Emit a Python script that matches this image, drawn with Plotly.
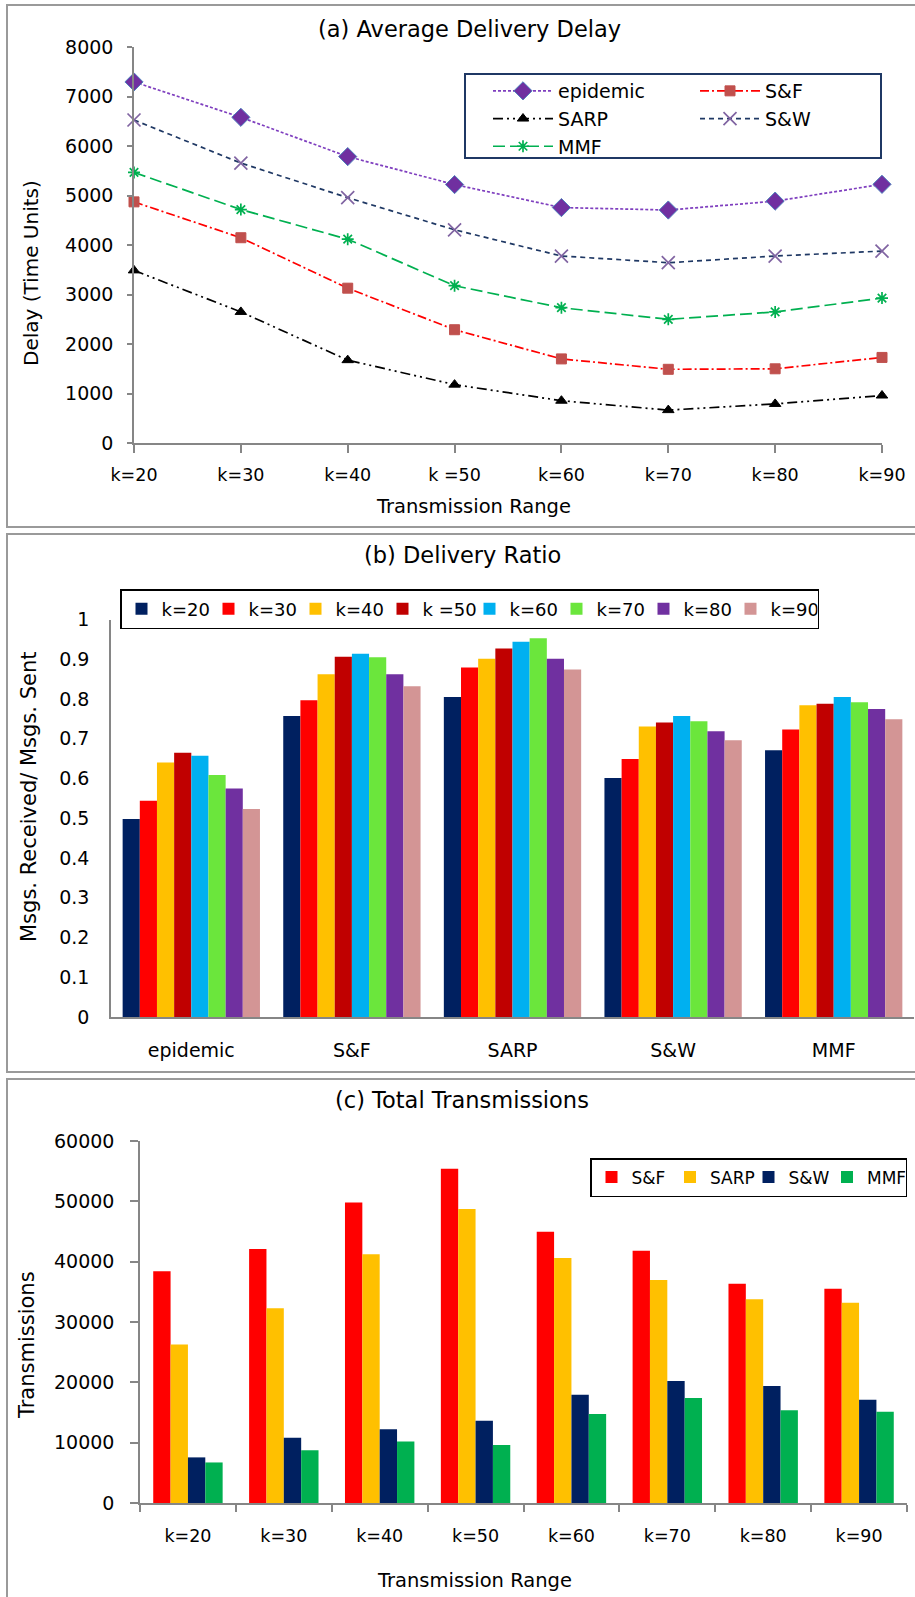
import plotly.graph_objects as go

W, H = 915, 1597
def px(x): return x / W
def py(y): return 1 - y / H

FONT = "DejaVu Sans"
AX = "#868686"

# ---------------- data ----------------
ranges_a = ["k=20", "k=30", "k=40", "k =50", "k=60", "k=70", "k=80", "k=90"]
delay_epidemic = [7300, 6585, 5790, 5225, 4760, 4710, 4890, 5230]
delay_sf = [4875, 4150, 3130, 2290, 1700, 1490, 1500, 1730]
delay_sarp = [3490, 2650, 1675, 1180, 855, 665, 790, 960]
delay_sw = [6530, 5660, 4960, 4310, 3780, 3645, 3780, 3880]
delay_mmf = [5470, 4720, 4120, 3180, 2735, 2500, 2650, 2930]

protocols = ["epidemic", "S&F", "SARP", "S&W", "MMF"]
k_labels_b = ["k=20", "k=30", "k=40", "k =50", "k=60", "k=70", "k=80", "k=90"]
ratio_k20 = [0.498, 0.757, 0.805, 0.601, 0.671]
ratio_k30 = [0.544, 0.797, 0.879, 0.649, 0.723]
ratio_k40 = [0.640, 0.862, 0.901, 0.731, 0.784]
ratio_k50 = [0.665, 0.906, 0.927, 0.741, 0.788]
ratio_k60 = [0.657, 0.914, 0.944, 0.757, 0.805]
ratio_k70 = [0.609, 0.905, 0.953, 0.744, 0.792]
ratio_k80 = [0.575, 0.862, 0.901, 0.719, 0.775]
ratio_k90 = [0.523, 0.832, 0.874, 0.696, 0.749]

ranges_c = ["k=20", "k=30", "k=40", "k=50", "k=60", "k=70", "k=80", "k=90"]
tx_sf = [38400, 42120, 49800, 55380, 44940, 41820, 36360, 35520]
tx_sarp = [26280, 32280, 41220, 48720, 40620, 36960, 33780, 33180]
tx_sw = [7560, 10800, 12240, 13620, 17940, 20220, 19380, 17100]
tx_mmf = [6720, 8760, 10200, 9600, 14760, 17400, 15360, 15120]

fig = go.Figure()

# ---------------- panel (a) ----------------
line_specs = [
    ("epidemic", delay_epidemic, "#7F3FBF", "3px,2px", "diamond", "#7030A0", "#4F81BD", 14, "legend"),
    ("S&F", delay_sf, "#FF0000", "9px,3px,2px,3px", "square", "#C0504D", "#C0504D", 10, "legend2"),
    ("SARP", delay_sarp, "#000000", "10px,4px,2px,4px,2px,4px", "triangle-up", "#000000", "#000000", 10, "legend"),
    ("S&W", delay_sw, "#1F3864", "5px,4px", "x-thin-open", "#8064A2", "#8064A2", 13, "legend2"),
    ("MMF", delay_mmf, "#00B050", "12px,5px", "asterisk-open", "#00B050", "#00B050", 10, "legend"),
]
for name, vals, lc, dash, sym, mfill, mline, msz, leg in line_specs:
    open_sym = sym.endswith("open")
    fig.add_trace(go.Scatter(
        x=ranges_a, y=vals, name=name, mode="lines+markers",
        line=dict(color=lc, width=1.7, dash=dash),
        marker=dict(symbol=sym, size=msz, color=mfill,
                    line=dict(color=mline, width=1.7 if open_sym else 1)),
        xaxis="x", yaxis="y", legend=leg, cliponaxis=False,
    ))

# ---------------- panel (b) ----------------
b_colors = ["#002060", "#FF0000", "#FFC000", "#C00000", "#00B0F0", "#6BE63C", "#7030A0", "#D39595"]
b_series = [ratio_k20, ratio_k30, ratio_k40, ratio_k50, ratio_k60, ratio_k70, ratio_k80, ratio_k90]
for lab, vals, col in zip(k_labels_b, b_series, b_colors):
    fig.add_trace(go.Bar(x=protocols, y=vals, name=lab, marker=dict(color=col, line=dict(width=0)),
                         xaxis="x2", yaxis="y2", legend="legend3"))

# ---------------- panel (c) ----------------
c_names = ["S&F", "SARP", "S&W", "MMF"]
c_colors = ["#FF0000", "#FFC000", "#002060", "#00B050"]
c_series = [tx_sf, tx_sarp, tx_sw, tx_mmf]
bw = 0.181
for i, (nm, vals, col) in enumerate(zip(c_names, c_series, c_colors)):
    fig.add_trace(go.Bar(x=ranges_c, y=vals, name=nm, marker=dict(color=col, line=dict(width=0)),
                         width=bw, offset=-2 * bw + i * bw,
                         xaxis="x3", yaxis="y3", legend="legend4"))

ytickfont = dict(family=FONT, size=19, color="#000000")
xtickfont = dict(family=FONT, size=17.5, color="#000000")
catfont = dict(family=FONT, size=19, color="#000000")

fig.update_layout(
    width=W, height=H, margin=dict(l=0, r=0, t=0, b=0, autoexpand=False),
    paper_bgcolor="white", plot_bgcolor="white",
    font=dict(family=FONT, size=18, color="#000000"),
    barmode="group", bargap=0.145, bargroupgap=0,
    xaxis=dict(domain=[px(134), px(882)], anchor="y", type="category", range=[0, 7],
               showline=True, linecolor=AX, linewidth=1.5, showgrid=False, zeroline=False,
               ticks="outside", ticklen=8, tickcolor=AX, tickwidth=1.5,
               tickfont=xtickfont, ticklabelstandoff=7),
    yaxis=dict(domain=[py(443), py(47.3)], anchor="x", range=[0, 8000], dtick=1000, tickformat="d",
               showline=True, linecolor=AX, linewidth=1.5, showgrid=False, zeroline=False,
               ticks="outside", ticklen=5, tickcolor=AX, tickwidth=1.5,
               tickfont=ytickfont, ticklabelstandoff=10),
    xaxis2=dict(domain=[px(111), px(914)], anchor="y2", type="category",
                showline=True, linecolor=AX, linewidth=1.5, showgrid=False, zeroline=False,
                ticks="", tickfont=catfont, ticklabelstandoff=15),
    yaxis2=dict(domain=[py(1017), py(619.5)], anchor="x2", range=[0, 1], dtick=0.1,
                showline=True, linecolor=AX, linewidth=1.5, showgrid=False, zeroline=False,
                ticks="", tickfont=ytickfont, ticklabelstandoff=16),
    xaxis3=dict(domain=[px(140), px(907)], anchor="y3", type="category", range=[-0.5, 7.5],
                showline=True, linecolor=AX, linewidth=1.5, showgrid=False, zeroline=False,
                ticks="outside", ticklen=7, tickcolor=AX, tickwidth=1.5, tickson="boundaries",
                tickfont=xtickfont, ticklabelstandoff=16),
    yaxis3=dict(domain=[py(1503), py(1141)], anchor="x3", range=[0, 60000], dtick=10000, tickformat="d",
                showline=True, linecolor=AX, linewidth=1.5, showgrid=False, zeroline=False,
                ticks="outside", ticklen=8, tickcolor=AX, tickwidth=1.5,
                tickfont=ytickfont, ticklabelstandoff=12),
    legend=dict(x=px(488), y=py(72), xanchor="left", yanchor="top", orientation="v",
                bgcolor="rgba(0,0,0,0)", borderwidth=0, itemwidth=60,
                font=dict(family=FONT, size=19), tracegroupgap=0),
    legend2=dict(x=px(695), y=py(72), xanchor="left", yanchor="top", orientation="v",
                 bgcolor="rgba(0,0,0,0)", borderwidth=0, itemwidth=60,
                 font=dict(family=FONT, size=19), tracegroupgap=0),
    legend3=dict(x=px(120), y=py(589), xanchor="left", yanchor="top", orientation="h",
                 bgcolor="white", bordercolor="#000000", borderwidth=1.5, itemwidth=30,
                 entrywidth=42, entrywidthmode="pixels",
                 font=dict(family=FONT, size=18)),
    legend4=dict(x=px(590), y=py(1158), xanchor="left", yanchor="top", orientation="h",
                 bgcolor="white", bordercolor="#000000", borderwidth=1.5, itemwidth=30,
                 entrywidth=33.5, entrywidthmode="pixels",
                 font=dict(family=FONT, size=17)),
    showlegend=True,
)

border = dict(color="#9A9A9A", width=2)
fig.add_shape(type="rect", xref="paper", yref="paper", x0=px(7), x1=px(925), y0=py(527), y1=py(5), line=border)
fig.add_shape(type="rect", xref="paper", yref="paper", x0=px(7), x1=px(925), y0=py(1072), y1=py(534), line=border)
fig.add_shape(type="rect", xref="paper", yref="paper", x0=px(7), x1=px(925), y0=py(1610), y1=py(1079), line=border)
# legend (a) frame
fig.add_shape(type="rect", xref="paper", yref="paper", x0=px(465), x1=px(881), y0=py(158), y1=py(74),
              line=dict(color="#1F3864", width=2))

def ann(text, x, y, size, angle=0):
    fig.add_annotation(text=text, x=px(x), y=py(y), xref="paper", yref="paper",
                       xanchor="center", yanchor="middle", showarrow=False, textangle=angle,
                       font=dict(family=FONT, size=size, color="#000000"))

ann("(a) Average Delivery Delay", 469, 29, 22.5)
ann("(b) Delivery Ratio", 462, 555, 22.5)
ann("(c) Total Transmissions", 462, 1100, 22.5)
ann("Transmission Range", 473, 507, 19.5)
ann("Transmission Range", 474, 1580, 19.5)
ann("Delay (Time Units)", 31, 273, 20, -90)
ann("Msgs. Received/ Msgs. Sent", 29, 797, 21, -90)
ann("Transmissions", 27, 1345, 21, -90)

fig.write_html("out.html")
